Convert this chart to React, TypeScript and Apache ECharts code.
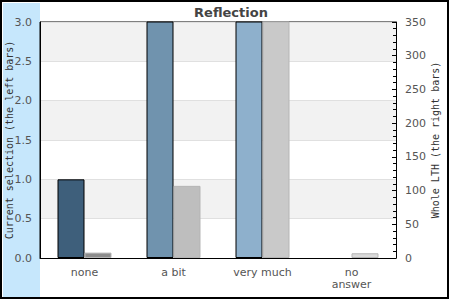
import React, { useEffect, useRef } from "react";
import * as echarts from "echarts";

const categories = ["none", "a bit", "very much", "no\nanswer"];
const currentSelection = [1.0, 4, 5, 0];
const wholeLTH = [8, 107, 420, 7];
const leftColors = ["#3e5f7b", "#7093ae", "#8eb0cc", "#a9c6dd"];
const rightColors = ["#8c8c8c", "#bebebe", "#c9c9c9", "#dadada"];
const leftTicks = { min: 0, max: 3, interval: 0.5 };
const rightTicks = { min: 0, max: 350, interval: 50 };

export default function App() {
  const ref = useRef<HTMLDivElement>(null);
  useEffect(() => {
    if (!ref.current) return;
    const chart = echarts.init(ref.current, null, { renderer: "svg" });
    chart.setOption({
      animation: false,
      backgroundColor: "#ffffff",
      title: {
        text: "Reflection",
        left: 226,
        textAlign: "center",
        top: 1,
        textStyle: { fontFamily: "DejaVu Sans", fontSize: 13, fontWeight: "bold", color: "#444" },
      },
      graphic: [
        { type: "rect", z: -10, silent: true, shape: { x: 3, y: 3, width: 37, height: 294 }, style: { fill: "#c6e7fc" } },
        { type: "rect", z: 100, silent: true, shape: { x: 1, y: 1, width: 447, height: 297 }, style: { fill: "none", stroke: "#000", lineWidth: 2 } },
      ],
      grid: {
        left: 40, right: 54, top: 22, bottom: 42,
        outerBoundsMode: "none", containLabel: false,
        show: true, borderColor: "#000", borderWidth: 1, backgroundColor: "transparent",
      },
      xAxis: {
        type: "category",
        data: categories,
        axisLine: { lineStyle: { color: "#000" } },
        axisTick: { show: false },
        axisLabel: { color: "#555", fontFamily: "DejaVu Sans", fontSize: 11, margin: 8, lineHeight: 12 },
      },
      yAxis: [
        {
          type: "value",
          ...leftTicks,
          name: "Current selection (the left bars)",
          nameLocation: "middle",
          nameRotate: 90,
          nameGap: 26,
          nameMoveOverlap: false,
          nameTextStyle: { fontFamily: "DejaVu Sans Mono", fontSize: 10, color: "#333" },
          axisLine: { show: true, lineStyle: { color: "#000" } },
          axisTick: { show: false },
          axisLabel: { color: "#555", fontFamily: "DejaVu Sans", fontSize: 11, margin: 8, formatter: (v: number) => v.toFixed(1) },
          splitLine: { show: true, lineStyle: { color: "#e0e0e0" } },
          splitArea: { show: true, areaStyle: { color: ["#ffffff", "#f2f2f2"] } },
        },
        {
          type: "value",
          ...rightTicks,
          name: "Whole LTH (the right bars)",
          nameLocation: "middle",
          nameRotate: 90,
          nameGap: 34,
          nameMoveOverlap: false,
          nameTextStyle: { fontFamily: "DejaVu Sans Mono", fontSize: 10, color: "#333" },
          axisLine: { show: true, lineStyle: { color: "#000" } },
          axisTick: { show: true, inside: true, length: 4, lineStyle: { color: "#000" } },
          minorTick: { show: true, splitNumber: 5, length: 3, lineStyle: { color: "#000" } },
          axisLabel: { color: "#555", fontFamily: "DejaVu Sans", fontSize: 11, margin: 9 },
          splitLine: { show: false },
        },
      ],
      series: [
        {
          type: "bar",
          yAxisIndex: 0,
          barWidth: 27,
          barGap: "0%",
          data: currentSelection.map((v, i) => ({
            value: v,
            itemStyle: { color: leftColors[i], borderWidth: v === 0 ? 0 : 1 },
          })),
          itemStyle: { borderColor: "#000", borderWidth: 1 },
        },
        {
          type: "bar",
          yAxisIndex: 1,
          barWidth: 27,
          barGap: "0%",
          data: wholeLTH.map((v, i) => ({ value: v, itemStyle: { color: rightColors[i] } })),
          itemStyle: { borderColor: "#b5b5b5", borderWidth: 1 },
        },
      ],
    });
    return () => chart.dispose();
  }, []);
  return <div ref={ref} style={{ position: "fixed", left: 0, top: 0, width: 450, height: 300 }} />;
}
